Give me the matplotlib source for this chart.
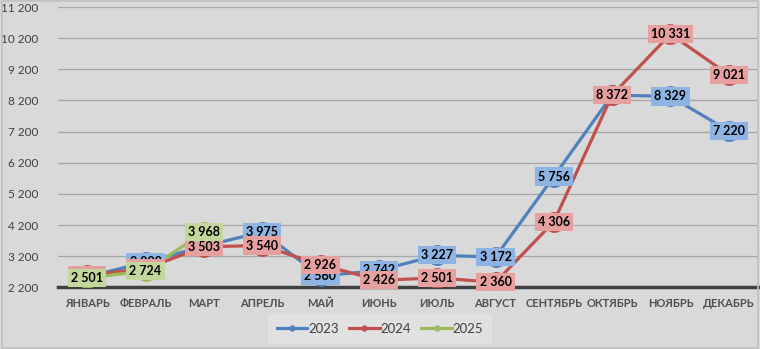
import numpy as np
import matplotlib
matplotlib.use("Agg")
import matplotlib.pyplot as plt

plt.rcParams['font.family'] = ['Liberation Sans Narrow', 'Lato', 'DejaVu Sans']

months = ["ЯНВАРЬ", "ФЕВРАЛЬ", "МАРТ", "АПРЕЛЬ", "МАЙ", "ИЮНЬ", "ИЮЛЬ",
          "АВГУСТ", "СЕНТЯБРЬ", "ОКТЯБРЬ", "НОЯБРЬ", "ДЕКАБРЬ"]
y2023 = [2540, 3000, 3520, 3975, 2560, 2742, 3227, 3172, 5756, 8372, 8329, 7220]
y2024 = [2590, 2800, 3503, 3540, 2926, 2426, 2501, 2360, 4306, 8372, 10331, 9021]
y2025 = [2501, 2724, 3968]
yticks = [2200, 3200, 4200, 5200, 6200, 7200, 8200, 9200, 10200, 11200]

series = [
    ("2023", y2023, "#4F81BD", "#8EB4E3"),
    ("2024", y2024, "#C0504D", "#E6A0A0"),
    ("2025", y2025, "#9BBB59", "#C3D69B"),
]

def fmt(v):
    return "{:,}".format(v).replace(",", " ")

fig = plt.figure(figsize=(7.6, 3.49), dpi=100, facecolor="#D9D9D9")
ax = fig.add_axes([58 / 760, 1 - 287.3 / 349, 700 / 760, 280.3 / 349])
ax.set_facecolor("#D9D9D9")

# lines with markers
for name, vals, col, _ in series:
    x = np.arange(len(vals))
    ax.plot(x, vals, color=col, lw=2.3, marker="o", ms=14, mec=col, mfc=col,
            zorder=3, label=name)

# data labels, drawn after all lines
for name, vals, col, box in series:
    for i, v in enumerate(vals):
        ax.text(i, v, fmt(v), ha="center", va="center", fontsize=9,
                fontweight="bold", color="black", zorder=5,
                bbox=dict(boxstyle="square,pad=0.25", fc=box, ec="none"))

ax.set_xlim(-0.5, 11.5)
ax.set_ylim(2200, 11200)
ax.set_yticks(yticks)
ax.set_yticklabels([fmt(t) for t in yticks], fontsize=8.5, color="#404040")
ax.set_xticks(range(12))
ax.set_xticklabels(months, fontsize=8, fontweight="bold", color="#505050")
ax.tick_params(axis="y", length=0, pad=14)
ax.tick_params(axis="x", length=0, pad=8)
ax.grid(axis="y", color="#A6A6A6", lw=0.9)
ax.set_axisbelow(True)
for s in ["top", "right", "left"]:
    ax.spines[s].set_visible(False)
ax.spines["bottom"].set_color("#404040")
ax.spines["bottom"].set_linewidth(2.5)
ax.spines["bottom"].set_zorder(2)

handles = [plt.Line2D([0], [0], color=c, lw=2.3, marker="o", ms=3.5)
           for _, _, c, _ in series]
leg = fig.legend(handles, [s[0] for s in series], loc="center",
                 bbox_to_anchor=(380 / 760, 1 - 329 / 349), ncol=3,
                 frameon=True, fontsize=9.5, handlelength=2.3,
                 handletextpad=0.05, columnspacing=0.8, borderpad=0.5)
leg.get_frame().set_facecolor("#E4E4E4")
leg.get_frame().set_edgecolor("none")
leg.get_frame().set_boxstyle("square", pad=0.2)
for t in leg.get_texts():
    t.set_color("#404040")

# outer border
fig.patches.append(plt.Rectangle((0.002, 0.003), 0.996, 0.994, transform=fig.transFigure,
                                 fill=False, ec="#BFBFBF", lw=1.2))

fig.savefig("out.png", dpi=100, facecolor=fig.get_facecolor())
